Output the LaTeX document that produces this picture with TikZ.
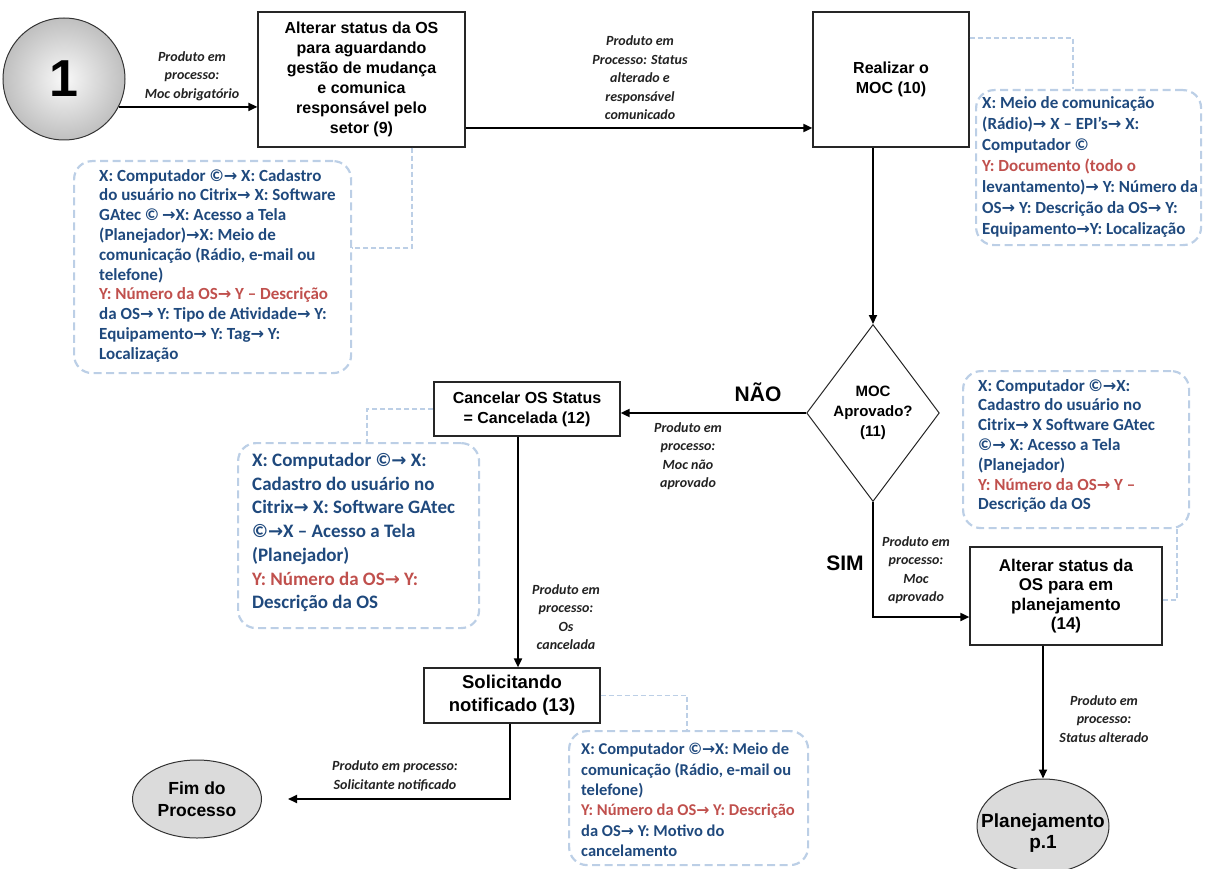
\documentclass[tikz,border=0pt]{standalone}
\usepackage{fontspec}
\setmainfont{Liberation Sans}
\newfontfamily\calfont{Carlito}
\newfontfamily\arrfont{DejaVu Sans}[Scale=0.95]
\newcommand{\ar}{{\arrfont\bfseries\char"2192}}
\usetikzlibrary{arrows.meta,shapes.geometric,calc}
\definecolor{xblue}{HTML}{1F497D}
\definecolor{yred}{HTML}{C0504D}
\definecolor{annb}{HTML}{BCCFE6}
\definecolor{labc}{HTML}{222222}
\tikzset{
  proc/.style={draw=black!85, line width=1.2pt, fill=white, align=center, inner sep=1pt,
    font=\bfseries\fontsize{16}{20}\selectfont},
  endell/.style={ellipse, draw=black!80, line width=1pt, fill=gray!28, align=center, inner sep=0pt,
    font=\bfseries\fontsize{17.5}{22}\selectfont},
  arr/.style={line width=1.8pt, -{Triangle[length=9pt,width=8pt]}},
  lab/.style={align=center, text=labc, inner sep=0pt,
    font=\calfont\bfseries\itshape\fontsize{14}{18.5}\selectfont},
  annbox/.style={rectangle, draw=annb, line width=2.2pt, dash pattern=on 8pt off 4.5pt,
    rounded corners=18pt, inner sep=0pt, anchor=north west},
  anntext/.style={align=left, inner sep=0pt, anchor=north west, text=xblue,
    font=\calfont\bfseries\fontsize{17}{19.8}\selectfont},
  annline/.style={draw=annb, line width=1.6pt, dash pattern=on 5pt off 3pt},
  yesno/.style={inner sep=0pt, font=\bfseries\fontsize{21}{24}\selectfont}
}
\begin{document}
\begin{tikzpicture}[x=1pt,y=-1pt]
\useasboundingbox (0,0) rectangle (1207,869);

% start circle
\node[circle, draw=black!80, line width=1pt, minimum size=122pt, inner sep=0pt,
  inner color=gray!5, outer color=gray!50,
  font=\bfseries\fontsize{52}{52}\selectfont] (c1) at (64,79) {1};

% process boxes
\node[proc, minimum width=207pt, minimum height=135pt] (b9) at (361.5,79.5)
  {Alterar status da OS\\para aguardando\\gestão de mudança\\e comunica\\responsável pelo\\setor (9)};
\node[proc, minimum width=156pt, minimum height=135pt] (b10) at (891,79.5)
  {Realizar o\\MOC (10)};
\node[diamond, draw=black!85, line width=1pt, minimum width=128pt, minimum height=177pt,
  inner sep=0pt, align=center, font=\bfseries\fontsize{15}{20}\selectfont] (d11) at (873,413)
  {MOC\\Aprovado?\\(11)};
\node[proc, minimum width=186pt, minimum height=54pt] (b12) at (527,409)
  {Cancelar OS Status\\= Cancelada (12)};
\node[proc, minimum width=176pt, minimum height=55pt, font=\bfseries\fontsize{18.5}{23}\selectfont]
  (b13) at (512,695.5) {Solicitando\\notificado (13)};
\node[proc, minimum width=192pt, minimum height=98pt, font=\bfseries\fontsize{17}{19.5}\selectfont]
  (b14) at (1066,596) {Alterar status da\\OS para em\\planejamento\\(14)};
\node[endell, minimum width=129pt, minimum height=78pt] (fim) at (197,799)
  {Fim do\\Processo};
\node[endell, minimum width=132pt, minimum height=94pt] (plan) at (1043,826) {};
\node[align=center, inner sep=0pt, font=\bfseries\fontsize{19}{21}\selectfont] (plant) at (1043,833)
  {Planejamento\\p.1};

% annotation boxes
\node[annbox, minimum width=277pt, minimum height=212pt] (a9) at (73,160) {};
\node[anntext] (a9t) at (99,169)
  {X: Computador ©\ar\ X: Cadastro\\
   do usuário no Citrix\ar\ X: Software\\
   GAtec ©\,\ar X: Acesso a Tela\\
   (Planejador)\ar X: Meio de\\
   comunicação (Rádio, e-mail ou\\
   telefone)\\
   \color{yred}Y: Número da OS\ar\ Y – Descrição\\
   da OS\ar\ Y: Tipo de Atividade\ar\ Y:\\
   Equipamento\ar\ Y: Tag\ar\ Y:\\
   Localização};

\node[annbox, minimum width=225pt, minimum height=155pt] (a10) at (975,89) {};
\node[anntext, font=\calfont\bfseries\fontsize{17}{21}\selectfont] (a10t) at (982,96)
  {X: Meio de comunicação\\
   (Rádio)\ar\ X – EPI’s\ar\ X:\\
   Computador ©\\
   \color{yred}Y: Documento (todo o\\
   levantamento)\ar\ Y: Número da\\
   OS\ar\ Y: Descrição da OS\ar\ Y:\\
   Equipamento\ar Y: Localização};

\node[annbox, minimum width=241pt, minimum height=185pt] (a12) at (237,442) {};
\node[anntext, font=\calfont\bfseries\fontsize{19}{23.7}\selectfont] (a12t) at (252,453)
  {X: Computador ©\ar\ X:\\
   Cadastro do usuário no\\
   Citrix\ar\ X: Software GAtec\\
   ©\ar X – Acesso a Tela\\
   (Planejador)\\
   \color{yred}Y: Número da OS\ar\ Y:\\
   Descrição da OS};

\node[annbox, minimum width=239pt, minimum height=134pt] (a13) at (568,730) {};
\node[anntext, font=\calfont\bfseries\fontsize{16.5}{20.4}\selectfont] (a13t) at (581,743)
  {X: Computador ©\ar X: Meio de\\
   comunicação (Rádio, e-mail ou\\
   telefone)\\
   \color{yred}Y: Número da OS\ar\ Y: Descrição\\
   da OS\ar\ Y: Motivo do\\
   cancelamento};

\node[annbox, minimum width=226pt, minimum height=157pt] (a14) at (962,370) {};
\node[anntext] (a14t) at (978,379)
  {X: Computador ©\ar X:\\
   Cadastro do usuário no\\
   Citrix\ar\ X Software GAtec\\
   ©\ar\ X: Acesso a Tela\\
   (Planejador)\\
   \color{yred}Y: Número da OS\ar\ Y –\\
   Descrição da OS};

% dashed connectors to annotations
\draw[annline] (412,0 |- b9.south) |- (a9.east |- 0,248);
\draw[annline] (b10.east |- 0,38) -| (1073,0 |- a10.north);
\draw[annline] (b12.west) -| (367,0 |- a12.north);
\draw[annline] (b13.east) -| (687,0 |- a13.north);
\draw[annline] (b14.east |- 0,600) -| (1177,0 |- a14.south);

% flow arrows
\draw[arr] (c1.-27) -- (c1.-27 -| b9.west);
\draw[arr] (b9.east |- 0,128) -- (b10.west |- 0,128);
\draw[arr] (d11.north |- b10.south) -- (d11.north);
\draw[arr] (d11.west) -- (d11.west -| b12.east);
\draw[arr] (518,0 |- b12.south) -- (518,0 |- b13.north);
\draw[arr] (510,0 |- b13.south) |- ([xshift=26pt]fim.east);
\draw[arr] (d11.south) |- (b14.west |- 0,617);
\draw[arr] (plan.north |- b14.south) -- (plan.north);

% labels
\node[lab] (l1) at (192,76) {Produto em\\processo:\\Moc obrigatório};
\node[lab] (l2) at (640,78) {Produto em\\Processo: Status\\alterado e\\responsável\\comunicado};
\node[lab] (l3) at (688,456) {Produto em\\processo:\\Moc não\\aprovado};
\node[lab] (l4) at (566,617) {Produto em\\processo:\\Os\\cancelada};
\node[lab] (l5) at (395,776) {Produto em processo:\\Solicitante notificado};
\node[lab] (l6) at (916,570) {Produto em\\processo:\\Moc\\aprovado};
\node[lab] (l7) at (1104,719) {Produto em\\processo:\\Status alterado};
\node[yesno] (nao) at (758,392) {NÃO};
\node[yesno] (sim) at (845,563) {SIM};
\end{tikzpicture}
\end{document}
